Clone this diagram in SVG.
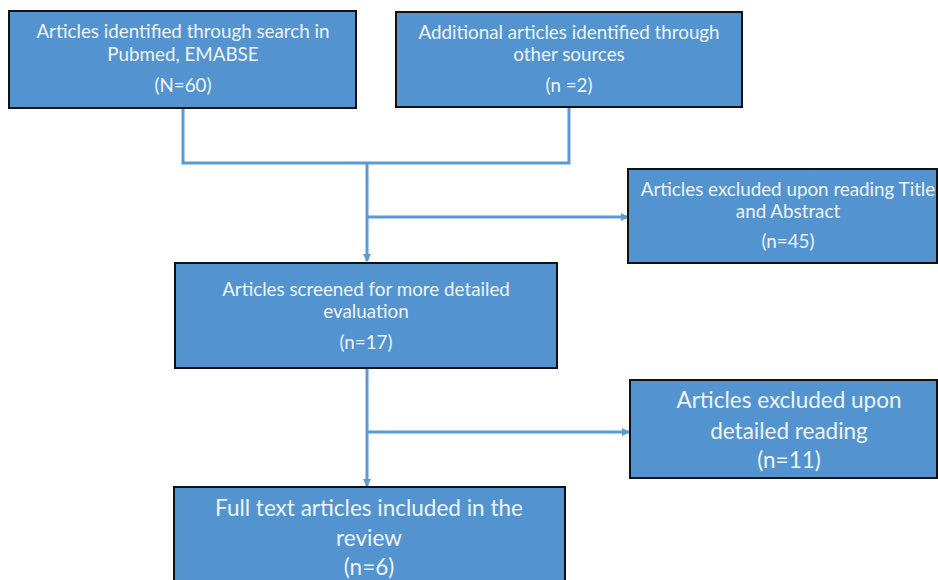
<svg xmlns="http://www.w3.org/2000/svg" width="938" height="580" viewBox="0 0 938 580">
<style>
.box{fill:#5394d0;stroke:#111;stroke-width:2}
.t{font-family:Lato,"Open Sans","Liberation Sans",sans-serif;fill:#eef3f8;text-anchor:middle;font-size:18.8px}
.tl{font-size:22.5px}
.c{fill:none;stroke:#5b9bd5;stroke-width:3}
</style>
<defs>
<marker id="ah" markerWidth="10" markerHeight="10" refX="7" refY="5" orient="auto" markerUnits="userSpaceOnUse">
<path d="M0,1 L8,5 L0,9 z" fill="#5b9bd5"/>
</marker>
</defs>
<rect width="938" height="580" fill="#fff"/>
<g id="connectors">
<polyline class="c" points="183,108 183,163 569,163 569,107"/>
<line class="c" x1="367" y1="163" x2="367" y2="261" marker-end="url(#ah)"/>
<line class="c" x1="367" y1="217" x2="628" y2="217" marker-end="url(#ah)"/>
<line class="c" x1="367" y1="368" x2="367" y2="486" marker-end="url(#ah)"/>
<line class="c" x1="367" y1="432" x2="629" y2="432" marker-end="url(#ah)"/>
</g>
<g id="n1">
<rect class="box" x="9" y="11" width="347" height="97"/>
<text class="t" x="183" y="38">Articles identified through search in</text>
<text class="t" x="183" y="61">Pubmed, EMABSE</text>
<text class="t" x="183" y="92">(N=60)</text>
</g>
<g id="n2">
<rect class="box" x="396" y="12" width="346" height="95"/>
<text class="t" x="569" y="39">Additional articles identified through</text>
<text class="t" x="569" y="61">other sources</text>
<text class="t" x="569" y="92">(n =2)</text>
</g>
<g id="n3">
<rect class="box" x="628" y="169" width="309" height="94"/>
<text class="t" x="788" y="196">Articles excluded upon reading Title</text>
<text class="t" x="788" y="218">and Abstract</text>
<text class="t" x="788" y="248">(n=45)</text>
</g>
<g id="n4">
<rect class="box" x="175" y="263" width="382" height="105"/>
<text class="t" x="366" y="296">Articles screened for more detailed</text>
<text class="t" x="366" y="318">evaluation</text>
<text class="t" x="366" y="349">(n=17)</text>
</g>
<g id="n5">
<rect class="box" x="630" y="380" width="307" height="98"/>
<text class="t tl" x="789" y="408">Articles excluded upon</text>
<text class="t tl" x="789" y="439">detailed reading</text>
<text class="t tl" x="789" y="468">(n=11)</text>
</g>
<g id="n6">
<rect class="box" x="174" y="487" width="391" height="100"/>
<text class="t tl" x="369" y="516">Full text articles included in the</text>
<text class="t tl" x="369" y="546">review</text>
<text class="t tl" x="369" y="575">(n=6)</text>
</g>
</svg>
